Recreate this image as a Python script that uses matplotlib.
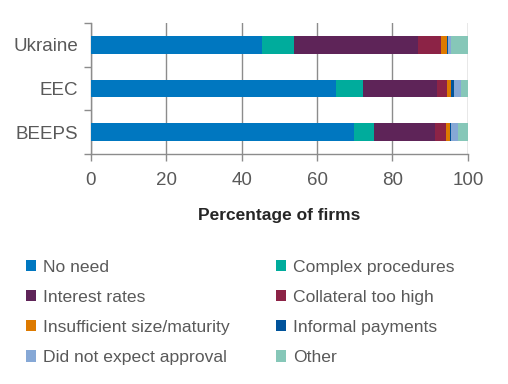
import matplotlib
matplotlib.use("Agg")
import matplotlib.pyplot as plt
import numpy as np
from matplotlib.patches import Patch

plt.rcParams["font.family"] = ["Liberation Sans", "DejaVu Sans"]

regions = ["Ukraine", "EEC", "BEEPS"]
reasons = ["No need", "Complex procedures", "Interest rates", "Collateral too high",
           "Insufficient size/maturity", "Informal payments", "Did not expect approval", "Other"]
colors = ["#0077C0", "#00AC9C", "#5E2458", "#8C2346", "#DD7A00", "#00539B", "#86A8D6", "#86C7B8"]

no_need = [45.3, 64.9, 69.9]
complex_proc = [8.5, 7.4, 5.1]
interest = [32.9, 19.6, 16.2]
collateral = [6.3, 2.6, 3.1]
insufficient = [1.5, 0.9, 1.0]
informal = [0.3, 0.8, 0.3]
not_expect = [0.7, 1.9, 1.7]
other = [4.5, 1.9, 2.7]
series = [no_need, complex_proc, interest, collateral, insufficient, informal, not_expect, other]

text_col = "#595959"
axis_col = "#8c8c8c"

fig = plt.figure(figsize=(5.08, 3.84), dpi=100)
ax = fig.add_axes([0.179, 0.599, 0.742, 0.341])

y = np.arange(len(regions))
left = np.zeros(len(regions))
for vals, c in zip(series, colors):
    ax.barh(y, vals, left=left, height=0.4, color=c, zorder=3)
    left += np.array(vals)

ax.set_xlim(0, 100)
ax.set_ylim(2.5, -0.5)
ax.set_xticks(np.arange(0, 101, 20))
ax.set_yticks(y)
ax.set_yticklabels(regions)
ax.set_yticks([-0.5, 0.5, 1.5, 2.5], minor=True)
ax.tick_params(axis="y", which="major", length=0, pad=9, labelsize=13.5, labelcolor=text_col)
ax.tick_params(axis="y", which="minor", length=5, color=axis_col, width=1)
ax.tick_params(axis="x", length=5, color=axis_col, width=1, labelsize=13.5, labelcolor=text_col, pad=8)
ax.grid(axis="x", color=axis_col, lw=1, zorder=0)
for s in ["top", "right"]:
    ax.spines[s].set_visible(False)
for s in ["left", "bottom"]:
    ax.spines[s].set_color(axis_col)
    ax.spines[s].set_linewidth(1)
ax.set_xlabel("Percentage of firms", fontsize=12.5, fontweight="bold", color="#262626", labelpad=14)

order = [0, 2, 4, 6, 1, 3, 5, 7]
handles = [Patch(facecolor=colors[i], edgecolor="none") for i in order]
labels = [reasons[i] for i in order]
fig.legend(handles, labels, ncol=2, loc="upper left", bbox_to_anchor=(0.02, 0.364),
           frameon=False, fontsize=12.6, labelcolor=text_col, handlelength=0.6,
           handleheight=0.6, handletextpad=0.4, columnspacing=2.6, labelspacing=0.86)

fig.savefig("out.png", dpi=100)
